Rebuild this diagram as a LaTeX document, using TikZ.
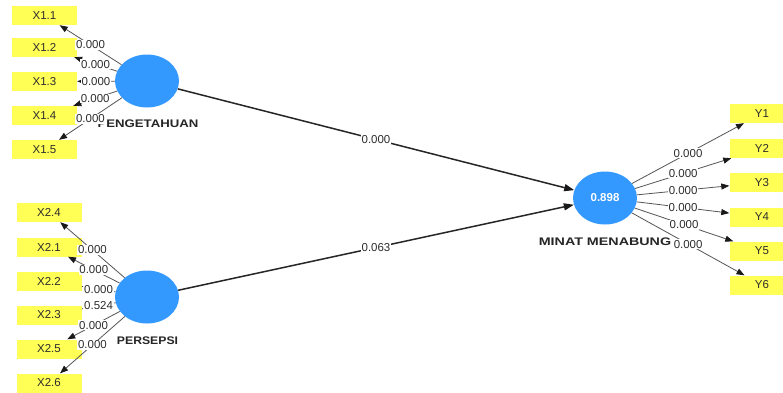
\documentclass[tikz,border=0pt]{standalone}
\usepackage{fontspec}
\usepackage{graphicx}
\setmainfont{Liberation Sans}
\usetikzlibrary{shapes.geometric,arrows.meta}
\definecolor{lvblue}{RGB}{51,153,255}
\definecolor{mvyellow}{RGB}{255,255,85}
\definecolor{linegray}{RGB}{85,85,85}
\definecolor{txtgray}{RGB}{45,45,45}
\tikzset{
  latent/.style={ellipse, fill=lvblue, draw=none, minimum width=64pt, minimum height=53pt, inner sep=0pt},
  indic/.style={rectangle, fill=mvyellow, draw=none, minimum width=65pt, minimum height=19pt, inner sep=0pt, font=\fontsize{11.5}{12}\selectfont, text=txtgray},
  lvname/.style={font=\fontsize{11}{12}\selectfont\bfseries, text=black!85, inner sep=0pt},
  meas/.style={draw=linegray, line width=0.8pt, -{Triangle[length=8pt,width=6pt,color=black!90]}},
  structpath/.style={draw=black!85, line width=1.5pt, -{Triangle[length=10pt,width=7pt,color=black!90]}},
  plabel/.style={fill=white, inner sep=0.8pt, font=\fontsize{11.5}{12}\selectfont, text=txtgray}
}
\begin{document}
\begin{tikzpicture}[x=1pt,y=-1pt]
\useasboundingbox[fill=white] (0,0) rectangle (783,392);
% latent variables
\node[latent] (pen) at (147,81) {};
\node[latent] (per) at (147,297) {};
\node[latent] (min) at (605,198) {\textcolor{white}{\fontsize{11.5}{12}\selectfont\bfseries 0.898}};
% latent names
\node[lvname] (penl) at (148,124) {\scalebox{1.2}[1]{PENGETAHUAN}};
\node[lvname] (perl) at (147.5,341) {\scalebox{1.11}[1]{PERSEPSI}};
\node[lvname] (minl) at (605,242) {\scalebox{1.3}[1]{MINAT MENABUNG}};
% indicators group 1
\node[indic] (x11) at (44.5,15.5) {X1.1};
\node[indic] (x12) at (44.5,47.5) {X1.2};
\node[indic] (x13) at (44.5,81.5) {X1.3};
\node[indic] (x14) at (44.5,115.5) {X1.4};
\node[indic] (x15) at (44.5,149.5) {X1.5};
% indicators group 2
\node[indic] (x24) at (49,212.5) {X2.4};
\node[indic] (x21) at (49,247) {X2.1};
\node[indic] (x22) at (49,281) {X2.2};
\node[indic] (x23) at (49,315) {X2.3};
\node[indic] (x25) at (49,349) {X2.5};
\node[indic] (x26) at (49,383) {X2.6};
% indicators Y
\node[indic] (y1) at (762,113.5) {Y1};
\node[indic] (y2) at (762,148.5) {Y2};
\node[indic] (y3) at (762,182.5) {Y3};
\node[indic] (y4) at (762,217) {Y4};
\node[indic] (y5) at (762,251) {Y5};
\node[indic] (y6) at (762,285) {Y6};
% structural paths
\draw[structpath] (pen) -- node[plabel] {0.000} (min);
\draw[structpath] (per) -- node[plabel] {0.063} (min);
% measurement paths
\draw[meas] (pen) -- node[plabel] {0.000} (x11);
\draw[meas] (pen) -- node[plabel] {0.000} (x12);
\draw[meas] (pen) -- node[plabel] {0.000} (x13);
\draw[meas] (pen) -- node[plabel] {0.000} (x14);
\draw[meas] (pen) -- node[plabel] {0.000} (x15);
\draw[meas] (per) -- node[plabel] {0.000} (x24);
\draw[meas] (per) -- node[plabel] {0.000} (x21);
\draw[meas] (per) -- node[plabel] {0.000} (x22);
\draw[meas] (per) -- node[plabel] {0.524} (x23);
\draw[meas] (per) -- node[plabel] {0.000} (x25);
\draw[meas] (per) -- node[plabel] {0.000} (x26);
\draw[meas] (min) -- node[plabel] {0.000} (y1);
\draw[meas] (min) -- node[plabel] {0.000} (y2);
\draw[meas] (min) -- node[plabel] {0.000} (y3);
\draw[meas] (min) -- node[plabel] {0.000} (y4);
\draw[meas] (min) -- node[plabel] {0.000} (y5);
\draw[meas] (min) -- node[plabel] {0.000} (y6);
\end{tikzpicture}
\end{document}
